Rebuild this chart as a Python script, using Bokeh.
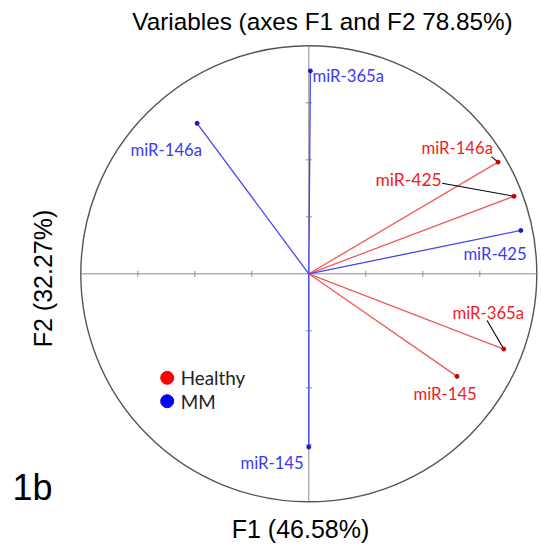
import math
from bokeh.plotting import figure
from bokeh.models import ColumnDataSource
from bokeh.core.properties import value
from bokeh.embed import file_html
from bokeh.resources import INLINE

# ---- data (correlation circle, F1 / F2 loadings) ----
healthy_vars = ["miR-146a", "miR-425", "miR-365a", "miR-145"]
healthy_f1 = [0.83, 0.90, 0.855, 0.65]
healthy_f2 = [0.49, 0.34, -0.33, -0.45]

mm_vars = ["miR-365a", "miR-146a", "miR-425", "miR-145"]
mm_f1 = [0.007, -0.49, 0.93, 0.0]
mm_f2 = [0.89, 0.66, 0.19, -0.76]

groups = ["Healthy", "MM"]
axis_ticks = [-0.75, -0.5, -0.25, 0.25, 0.5, 0.75]

title_text = "Variables (axes F1 and F2 78.85%)"
xlabel_text = "F1 (46.58%)"
ylabel_text = "F2 (32.27%)"
panel_text = "1b"

# ---- label layout (positions of annotation text, in plot units) ----
healthy_lab_x = [0.494, 0.292, 0.630, 0.459]
healthy_lab_y = [0.550, 0.414, -0.170, -0.529]
healthy_lab_size = ["16.7px", "17.5px", "16.7px", "16.7px"]
mm_lab_x = [0.016, -0.782, 0.678, -0.300]
mm_lab_y = [0.866, 0.545, 0.088, -0.832]
# leader-line starts for crowded labels (Healthy: miR-146a, miR-425, miR-365a)
leader_idx = [0, 1, 2]
leader_x0 = [0.801, 0.585, 0.782]
leader_y0 = [0.514, 0.397, -0.205]

W, H = 541, 545
CX, CY, S = 308.3, 273.3, 228.0
x0, x1 = (0 - CX) / S, (W - CX) / S
y1, y0 = CY / S, (CY - H) / S

p = figure(width=W, height=H, x_range=(x0, x1), y_range=(y0, y1),
           output_backend="svg", toolbar_location=None, min_border=0)
p.axis.visible = False
p.grid.visible = False
p.outline_line_color = None
p.background_fill_color = "white"
p.border_fill_color = "white"

RED_LINE = "#f25a5a"
RED_DOT = "#c80000"
RED_TXT = "#f21c1c"
BLUE_LINE = "#4646f0"
BLUE_DOT = "#1a1ad0"
BLUE_TXT = "#3a3af5"
FONT = value("Lato")

# circle
p.circle(x=[0], y=[0], radius=1.0, fill_color=None, line_color="#555555", line_width=1.4)

# cross axes
p.segment(x0=[-1, 0], y0=[0, -1], x1=[1, 0], y1=[0, 1], line_color="#8a8a8a", line_width=1)
tl = 3.0 / S
p.segment(x0=axis_ticks, y0=[-tl] * len(axis_ticks), x1=axis_ticks, y1=[tl] * len(axis_ticks),
          line_color="#8a8a8a", line_width=1)
p.segment(x0=[-tl] * len(axis_ticks), y0=axis_ticks, x1=[tl] * len(axis_ticks), y1=axis_ticks,
          line_color="#8a8a8a", line_width=1)

# vectors
hs = ColumnDataSource(dict(x=healthy_f1, y=healthy_f2, name=healthy_vars,
                           lx=healthy_lab_x, ly=healthy_lab_y, fs=healthy_lab_size))
ms = ColumnDataSource(dict(x=mm_f1, y=mm_f2, name=mm_vars, lx=mm_lab_x, ly=mm_lab_y))

p.segment(x0=0, y0=0, x1="x", y1="y", source=hs, line_color=RED_LINE, line_width=1.3)
p.segment(x0=0, y0=0, x1="x", y1="y", source=ms, line_color=BLUE_LINE, line_width=1.3)

# leader lines
p.segment(x0=leader_x0, y0=leader_y0,
          x1=[healthy_f1[i] for i in leader_idx], y1=[healthy_f2[i] for i in leader_idx],
          line_color="black", line_width=1.1)

p.scatter("x", "y", source=hs, size=4, color=RED_DOT)
p.scatter("x", "y", source=ms, size=4, color=BLUE_DOT)

p.text("lx", "ly", text="name", source=hs, text_font=FONT, text_font_size="fs",
       text_color=RED_TXT, text_baseline="middle", text_align="left")
p.text("lx", "ly", text="name", source=ms, text_font=FONT, text_font_size="16.7px",
       text_color=BLUE_TXT, text_baseline="middle", text_align="left")

# legend
leg_x = (166.7 - CX) / S
leg_y = [(CY - 377.3) / S, (CY - 400.7) / S]
p.scatter([leg_x] * 2, leg_y, size=13, color=["#ff0000", "#0000ff"])
p.text([leg_x + 13.5 / S] * 2, leg_y, text=groups, text_font=FONT, text_font_size="18.8px",
       text_color="#222222", text_baseline="middle", text_align="left")

# titles
AR = value("Liberation Sans")
p.text([(322 - CX) / S], [(CY - 21) / S], text=[title_text], text_font=AR,
       text_font_size="24.3px", text_color="black", text_align="center", text_baseline="middle")
p.text([(300 - CX) / S], [(CY - 528) / S], text=[xlabel_text], text_font=AR,
       text_font_size="25px", text_color="black", text_align="center", text_baseline="middle")
p.text([(42 - CX) / S], [(CY - 278) / S], text=[ylabel_text], text_font=AR, angle=math.pi / 2,
       text_font_size="25px", text_color="black", text_align="center", text_baseline="middle")
p.text([(12 - CX) / S], [(CY - 487) / S], text=[panel_text], text_font=AR,
       text_font_size="36px", text_color="black", text_align="left", text_baseline="middle")

open("out.html", "w").write(file_html(p, INLINE))
